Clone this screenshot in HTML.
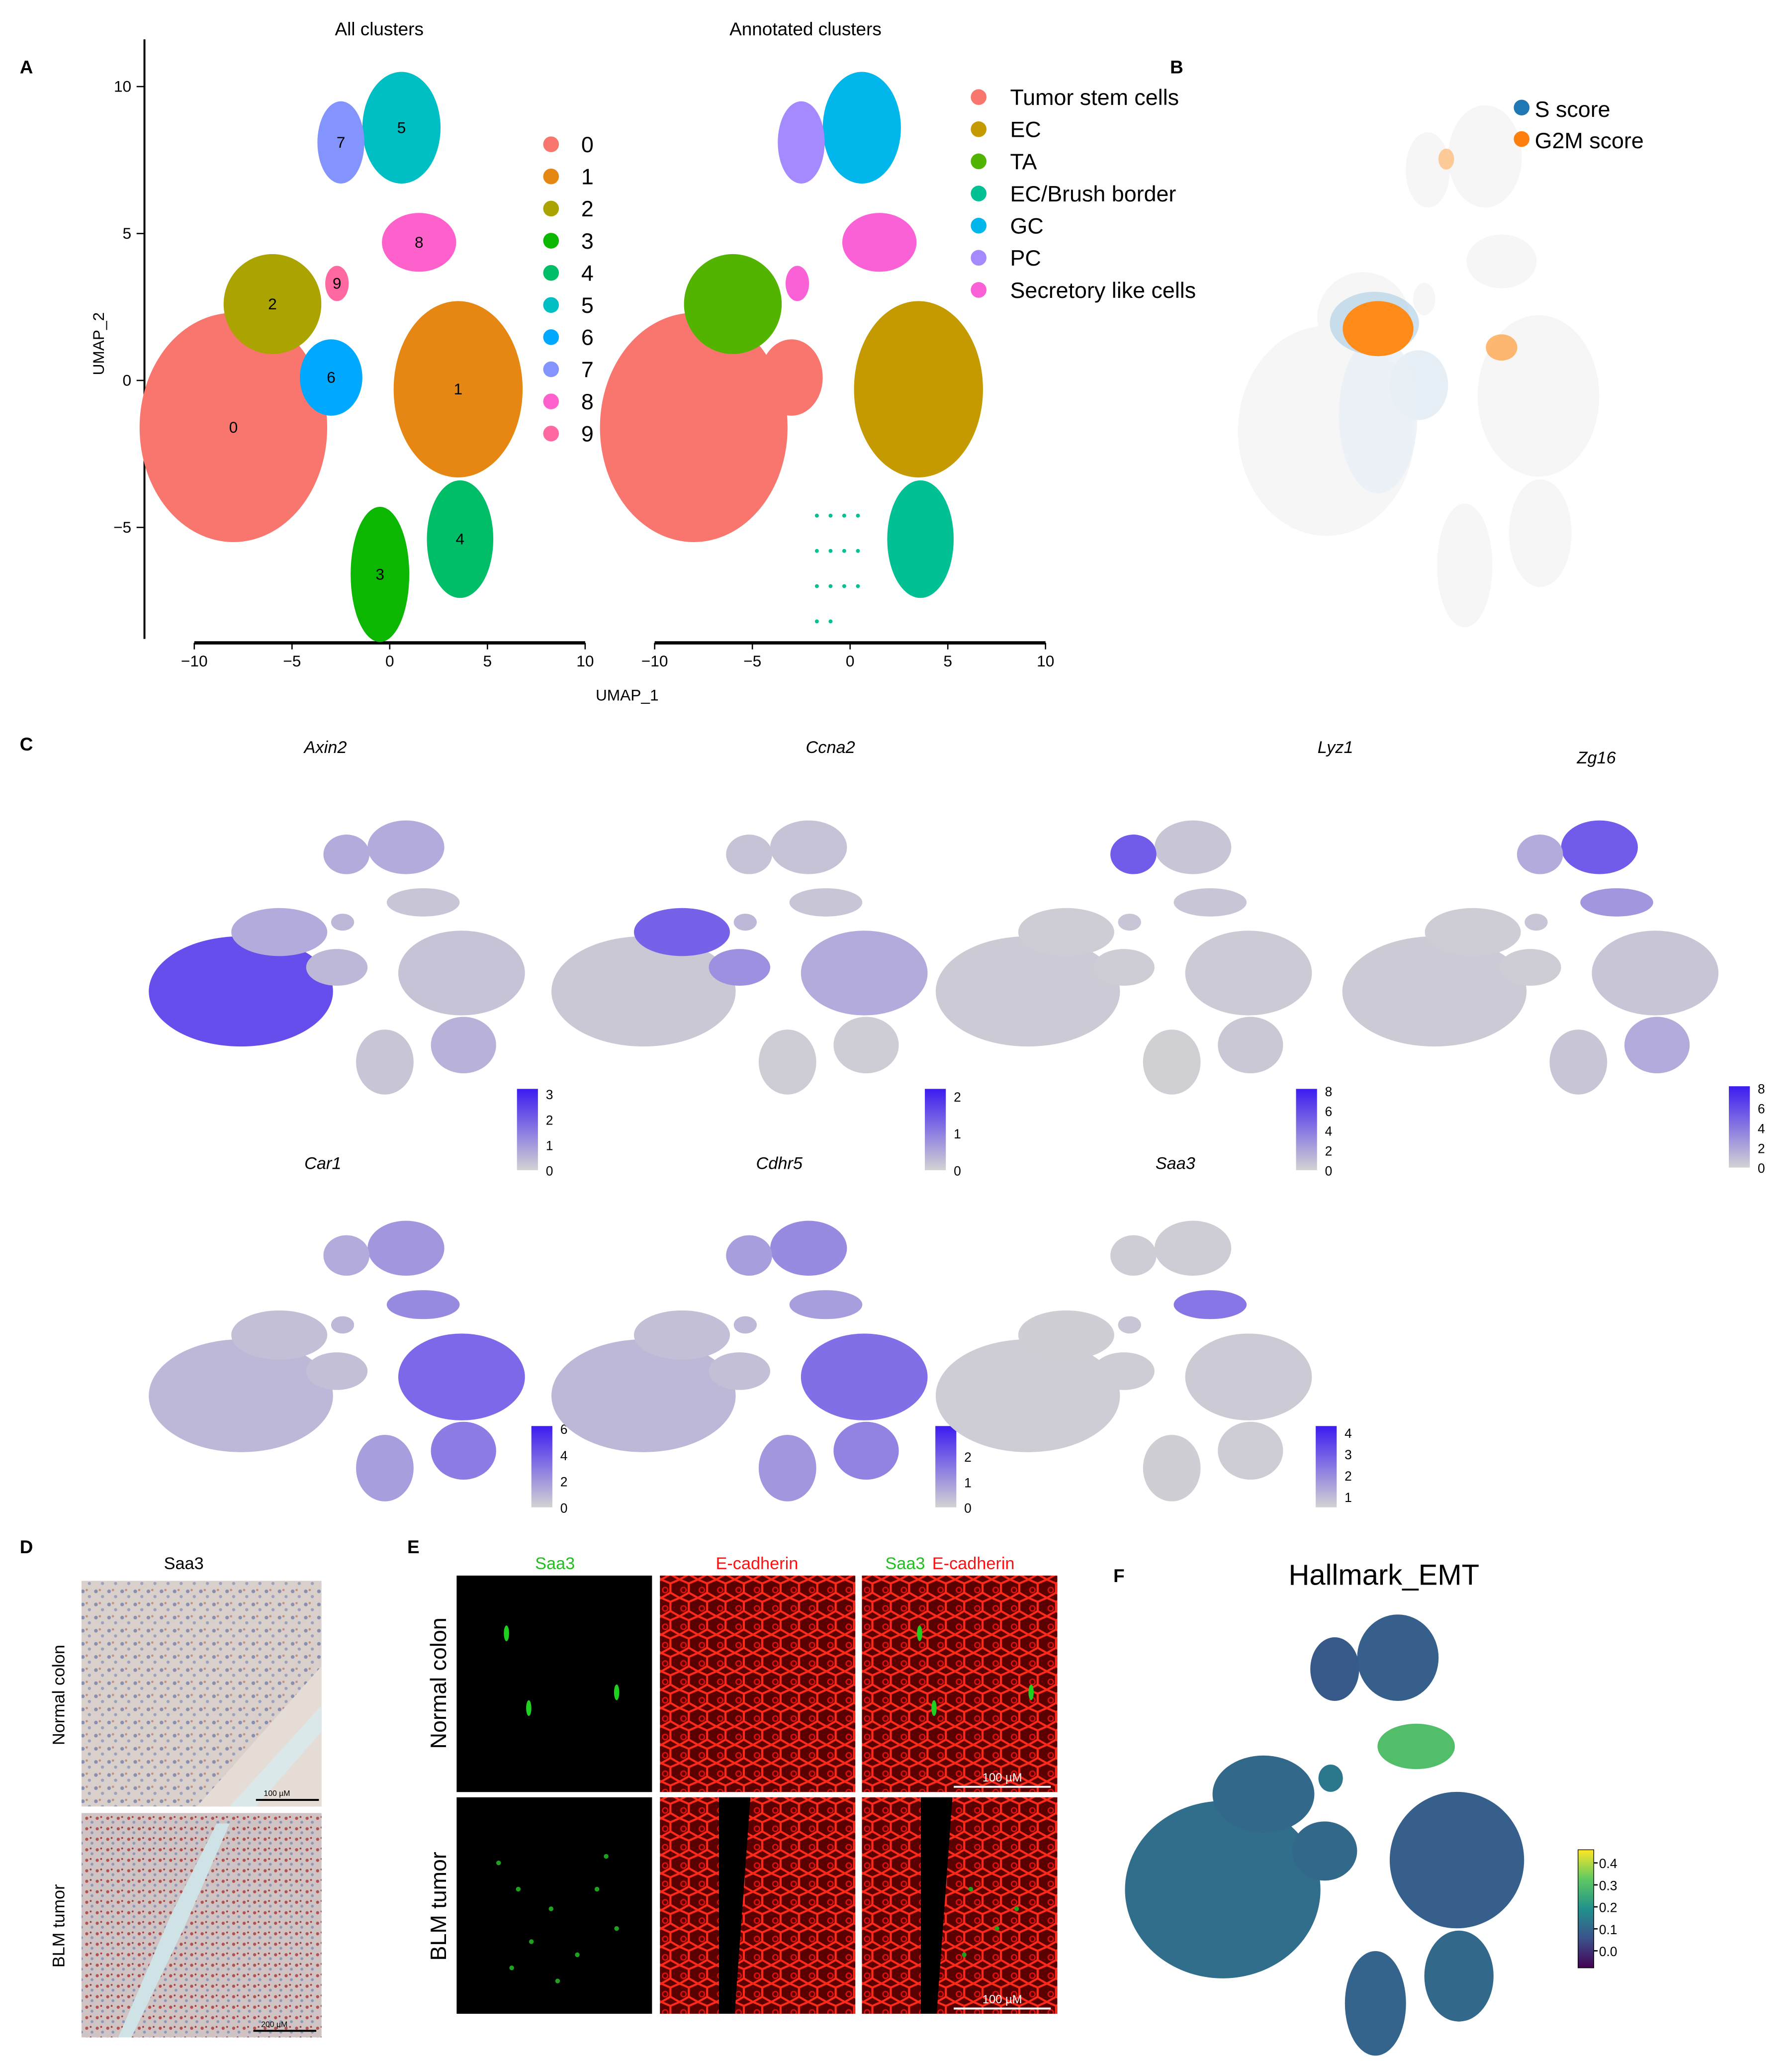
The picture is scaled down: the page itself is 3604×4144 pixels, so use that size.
<!DOCTYPE html>
<html><head><meta charset="utf-8"><style>
html,body{margin:0;padding:0;background:#fff}
svg{display:block}
text{font-family:"Liberation Sans",sans-serif}
</style></head><body>
<svg id="fig" xmlns="http://www.w3.org/2000/svg" width="3604" height="4144" viewBox="0 0 1366 1571">
<defs>
<pattern id="redcells" width="14" height="14" patternUnits="userSpaceOnUse">
<rect width="14" height="14" fill="#5a0000"/>
<path d="M0 0 L7 3 L14 0 M7 3 L7 10 L0 14 M7 10 L14 14" stroke="#ff2a1a" stroke-width="1.6" fill="none"/>
<circle cx="3" cy="8" r="2" fill="none" stroke="#e01010" stroke-width="1"/>
</pattern>
<pattern id="histo1" width="10" height="10" patternUnits="userSpaceOnUse">
<rect width="10" height="10" fill="#d9d0cc"/>
<circle cx="3" cy="3" r="1.4" fill="#8a8fb0"/><circle cx="8" cy="7" r="1.2" fill="#9aa0bd"/>
<circle cx="6" cy="2" r="0.9" fill="#c49080"/>
</pattern>
<pattern id="histo2" width="8" height="8" patternUnits="userSpaceOnUse">
<rect width="8" height="8" fill="#cfc3c3"/>
<circle cx="2" cy="2" r="1.2" fill="#b25050"/><circle cx="6" cy="5" r="1.1" fill="#8f97b8"/>
<circle cx="5" cy="1" r="0.7" fill="#a03a3a"/>
</pattern>
</defs>
</svg>
<script>
// ---- data ----
const clusterIds = [0,1,2,3,4,5,6,7,8,9];
const clusterCx = [-8,3.5,-6,-0.5,3.6,0.6,-3,-2.5,1.5,-2.7];
const clusterCy = [-1.6,-0.3,2.6,-6.6,-5.4,8.6,0.1,8.1,4.7,3.3];
const clusterRx = [4.8,3.3,2.5,1.5,1.7,2.0,1.6,1.2,1.9,0.6];
const clusterRy = [3.9,3.0,1.7,2.3,2.0,1.9,1.3,1.4,1.0,0.6];
const clusterColors = ["#F8766D","#E68613","#ABA300","#0CB702","#00BE67","#00BFC4","#00A9FF","#8494FF","#FF61CC","#FF68A1"];
const annotNames = ["Tumor stem cells","EC","TA","EC/Brush border","GC","PC","Secretory like cells"];
const annotColors = ["#F8766D","#C49A00","#53B400","#00C094","#00B6EB","#A58AFF","#FB61D7"];
const clusterToAnnot = [0,1,2,-1,3,4,0,5,6,6];
const xTicks = [-10,-5,0,5,10];
const yTicks = [10,5,0,-5];
const genes = ["Axin2","Ccna2","Lyz1","Zg16","Car1","Cdhr5","Saa3"];
const geneTicks = [[0,1,2,3],[0,1,2],[0,2,4,6,8],[0,2,4,6,8],[0,2,4,6],[0,1,2,3],[1,2,3,4]];
const geneExpr = [
 [1.0,0.12,0.3,0.1,0.25,0.3,0.2,0.3,0.1,0.2],
 [0.08,0.3,0.85,0.05,0.05,0.12,0.5,0.12,0.1,0.2],
 [0.06,0.06,0.05,0.03,0.08,0.1,0.05,0.9,0.1,0.1],
 [0.06,0.1,0.05,0.1,0.3,0.9,0.05,0.3,0.45,0.1],
 [0.2,0.8,0.15,0.4,0.65,0.45,0.15,0.3,0.55,0.2],
 [0.2,0.75,0.15,0.45,0.6,0.55,0.15,0.4,0.4,0.2],
 [0.05,0.06,0.04,0.04,0.05,0.05,0.05,0.05,0.7,0.1]];
const emtScore = [0.13,0.1,0.12,0.11,0.12,0.1,0.12,0.09,0.3,0.15];
const cellCycle = ["none","none","g2m","none","none","none","s","none","none","none"];

// ---- helpers ----
const svg = document.getElementById('fig');
const NS = 'http://www.w3.org/2000/svg';
function mk(tag, attrs, parent){const e=document.createElementNS(NS,tag);for(const k in attrs)e.setAttribute(k,attrs[k]);(parent||svg).appendChild(e);return e;}
function txt(s,x,y,size,opts,parent){const o=Object.assign({x:x,y:y,'font-size':size,'text-anchor':'middle',fill:'#000'},opts||{});const t=mk('text',o,parent);t.textContent=s;return t;}
function lerpC(a,b,t){const pa=[1,3,5].map(i=>parseInt(a.substr(i,2),16)),pb=[1,3,5].map(i=>parseInt(b.substr(i,2),16));return 'rgb('+pa.map((v,i)=>Math.round(v+(pb[i]-v)*t)).join(',')+')';}
function viridis(t){const s=["#440154","#3b528b","#21918c","#5ec962","#fde725"];const p=Math.max(0,Math.min(0.999,t))*4;const i=Math.floor(p);return lerpC(s[i],s[i+1],p-i);}
function drawUmap(name,xs,ys,colorFn){
  const g=mk('g',{});
  
  
  clusterIds.forEach(i=>{
    const c=colorFn(i); if(!c) return;
    const e=mk('ellipse',{cx:xs(clusterCx[i]),cy:ys(clusterCy[i]),rx:Math.abs(xs(clusterCx[i]+clusterRx[i])-xs(clusterCx[i])),ry:Math.abs(ys(clusterCy[i]+clusterRy[i])-ys(clusterCy[i])),fill:c},g);
    
    
  });
  return g;
}
function lin(d0,d1,r0,r1){return v=>r0+(v-d0)*(r1-r0)/(d1-d0);}

// ---- panel labels ----
[["A",20,56],["B",897,56],["C",20,572],["D",20,1184],["E",315,1184],["F",853,1206]].forEach(p=>{
  const t=txt(p[0],p[1],p[2],14,{'font-weight':'bold'});
  
  
});

// ---- panel A ----
const yA=lin(0,10,290,66);
const xA1=lin(0,10,297,446), xA2=lin(0,10,648,797);
mk('line',{x1:110,y1:30,x2:110,y2:487,stroke:'#000','stroke-width':1.5});
yTicks.forEach(v=>{mk('line',{x1:104,y1:yA(v),x2:110,y2:yA(v),stroke:'#000'});txt(String(v).replace('-','\u2212'),100,yA(v)+4,12,{'text-anchor':'end'});});
txt('UMAP_2',79,262,12,{transform:'rotate(-90 79 262)'});
[[xA1,'all'],[xA2,'annot']].forEach(([xs,n])=>{
  const l=mk('line',{x1:xs(-10),y1:490,x2:xs(10),y2:490,stroke:'#000','stroke-width':2.5});
  
  xTicks.forEach(v=>{mk('line',{x1:xs(v),y1:490,x2:xs(v),y2:495,stroke:'#000'});txt(String(v).replace('-','\u2212'),xs(v),508,12);});
});
txt('UMAP_1',478,534,12);
txt('All clusters',289,27,14);
txt('Annotated clusters',614,27,14);
drawUmap('umap-all-clusters',xA1,yA,i=>clusterColors[i]);
clusterIds.forEach(i=>{txt(String(i),xA1(clusterCx[i]),yA(clusterCy[i])+4,12);});
drawUmap('umap-annotated',xA2,yA,i=>clusterToAnnot[i]<0?null:annotColors[clusterToAnnot[i]]);
for(let k=0;k<14;k++){mk('circle',{cx:xA2(clusterCx[3]-1.2+(k%4)*0.7),cy:yA(clusterCy[3]+2-Math.floor(k/4)*1.2),r:1.5,fill:annotColors[3]});}
clusterIds.forEach((id,k)=>{
  const y=110+k*24.5;
  const c=mk('circle',{cx:420,cy:y,r:6,fill:clusterColors[k]});
  
  txt(String(id),443,y+6,17,{'text-anchor':'start'});
});
annotNames.forEach((n,k)=>{
  const y=74+k*24.5;
  mk('circle',{cx:746,cy:y,r:6,fill:annotColors[k]});
  const t=txt(n,770,y+6,17,{'text-anchor':'start'});
  
});

// ---- panel B ----
const xB=lin(-12,7,955,1222), yB=lin(-8.5,11,470,70);
drawUmap('umap-cell-cycle',xB,yB,i=>cellCycle[i]==='s'?'#e6eff5':'#f6f6f6');
mk('ellipse',{cx:xB(-5.2),cy:yB(-1),rx:30,ry:60,fill:'#e8f0f6',opacity:0.8});
mk('ellipse',{cx:xB(-5.4),cy:yB(2.4),rx:34,ry:24,fill:'#a9cde6',opacity:0.6});
mk('ellipse',{cx:xB(-5.2),cy:yB(2.2),rx:27,ry:21,fill:'#ff8c1a'});
mk('ellipse',{cx:xB(1.5),cy:yB(1.5),rx:12,ry:10,fill:'#ffa64d',opacity:0.8});
mk('ellipse',{cx:xB(-1.5),cy:yB(8.5),rx:6,ry:8,fill:'#ffbf80',opacity:0.8});
mk('circle',{cx:1160,cy:82,r:6,fill:'#1f77b4'});txt('S score',1170,89,17,{'text-anchor':'start'});
mk('circle',{cx:1160,cy:106,r:6,fill:'#ff7f0e'});txt('G2M score',1170,113,17,{'text-anchor':'start'});

// ---- panel C ----
const plotPos=[[125,620,830,248,570],[432,620,830,633,570],[725,620,830,1018,570],[1035,620,830,1217,578],[125,925,1140,246,887],[432,925,1140,594,887],[725,925,1140,896,887]];
const cbPos=[[394,830],[705,830],[988,830],[1318,828],[405,1087],[713,1087],[1003,1087]];
genes.forEach((gname,gi)=>{
  const [px,py0,py1,tx,ty]=plotPos[gi];
  const xs=lin(-12,7,px,px+278), ys=lin(-8.5,11,py1,py0);
  drawUmap('feature-plot-'+gname.toLowerCase(),xs,ys,i=>lerpC('#d3d3d3','#5a3ff0',geneExpr[gi][i]*0.9));
  const t=txt(gname,tx,ty+4,13,{'font-style':'italic'});
  
  const [cx,cy]=cbPos[gi];
  const grad=mk('linearGradient',{id:'cb'+gi,x1:0,y1:1,x2:0,y2:0},svg.querySelector('defs'));
  mk('stop',{offset:0,'stop-color':'#d3d3d3'},grad);mk('stop',{offset:1,'stop-color':'#3b1cf0'},grad);
  const r=mk('rect',{x:cx,y:cy,width:16,height:62,fill:'url(#cb'+gi+')'});
  
  const tk=geneTicks[gi], mx=tk[tk.length-1], mn=gi===6?0.5:0;
  tk.forEach(v=>{const yy=cy+62-(v-mn)/(mx-mn+(gi===6?0.3:0.2))*62; txt(String(v),cx+22,yy+4,10,{'text-anchor':'start'});});
});

// ---- panel D ----
txt('Saa3',140,1196,13);
mk('rect',{x:62,y:1205,width:183,height:172,fill:'url(#histo1)'});
mk('path',{d:'M150 1377 L245 1270 L245 1377 Z',fill:'#e6dcd6'});
mk('path',{d:'M175 1377 L245 1300 L245 1320 L195 1377 Z',fill:'#dbe8ea'});
mk('rect',{x:62,y:1382,width:183,height:171,fill:'url(#histo2)'});
mk('path',{d:'M90 1553 L130 1460 L165 1390 L175 1390 L140 1470 L100 1553 Z',fill:'#cfe3e6'});
mk('line',{x1:195,y1:1372,x2:243,y2:1372,stroke:'#000','stroke-width':1.5});txt('100 µM',211,1369,6);
mk('line',{x1:193,y1:1548,x2:241,y2:1548,stroke:'#000','stroke-width':1.5});txt('200 µM',209,1545,6);
txt('Normal colon',49,1292,13,{transform:'rotate(-90 49 1292)'});
txt('BLM tumor',49,1468,13,{transform:'rotate(-90 49 1468)'});

// ---- panel E ----
const eCols=[348,503,657], eRows=[1201,1370];
eRows.forEach((ry,ri)=>eCols.forEach((cx,ci)=>{
  const r=mk('rect',{x:cx,y:ry,width:149,height:165,fill:ci===0?'#000':'url(#redcells)'});
  
}));
mk('path',{d:'M548 1370 L572 1370 L560 1535 L548 1535 Z',fill:'#000'});
mk('path',{d:'M702 1370 L726 1370 L714 1535 L702 1535 Z',fill:'#000'});
[[386,1245],[403,1302],[470,1290],[701,1245],[712,1302],[786,1290]].forEach(p=>mk('ellipse',{cx:p[0],cy:p[1],rx:2,ry:6,fill:'#20d020'}));
[[380,1420],[395,1440],[420,1455],[455,1440],[470,1470],[440,1490],[405,1480],[462,1415],[425,1510],[390,1500],[740,1440],[760,1470],[735,1490],[775,1455]].forEach(p=>mk('circle',{cx:p[0],cy:p[1],r:1.8,fill:'#1fa01f'}));
txt('Saa3',423,1196,13,{fill:'#20c020'});
txt('E-cadherin',577,1196,13,{fill:'#ff1010'});
txt('Saa3',690,1196,13,{fill:'#20c020'});txt('E-cadherin',742,1196,13,{fill:'#ff1010'});
mk('line',{x1:727,y1:1362,x2:801,y2:1362,stroke:'#fff','stroke-width':1.5});txt('100 µM',764,1358,9,{fill:'#fff'});
mk('line',{x1:727,y1:1531,x2:801,y2:1531,stroke:'#fff','stroke-width':1.5});txt('100 µM',764,1527,9,{fill:'#fff'});
txt('Normal colon',340,1283,17,{transform:'rotate(-90 340 1283)'});
txt('BLM tumor',340,1453,17,{transform:'rotate(-90 340 1453)'});

// ---- panel F ----
txt('Hallmark_EMT',1055,1208,22,{'font-family':'Liberation Sans Narrow, Liberation Sans, sans-serif'});
const xF=lin(-12,7,870,1165), yF=lin(-8.5,11,1560,1222);
drawUmap('umap-emt',xF,yF,i=>viridis((emtScore[i]+0.05)/0.5));
const gF=mk('linearGradient',{id:'cbF',x1:0,y1:1,x2:0,y2:0},svg.querySelector('defs'));
[0,0.25,0.5,0.75,1].forEach(o=>mk('stop',{offset:o,'stop-color':viridis(o)},gF));
mk('rect',{x:1203,y:1410,width:12,height:90,fill:'url(#cbF)',stroke:'#000','stroke-width':0.5});
[0,0.1,0.2,0.3,0.4].forEach(v=>{const yy=1487-v/0.4*67;mk('line',{x1:1215,y1:yy,x2:1218,y2:yy,stroke:'#000'});txt(v.toFixed(1),1219,yy+4,10,{'text-anchor':'start'});});
</script>
</body></html>
